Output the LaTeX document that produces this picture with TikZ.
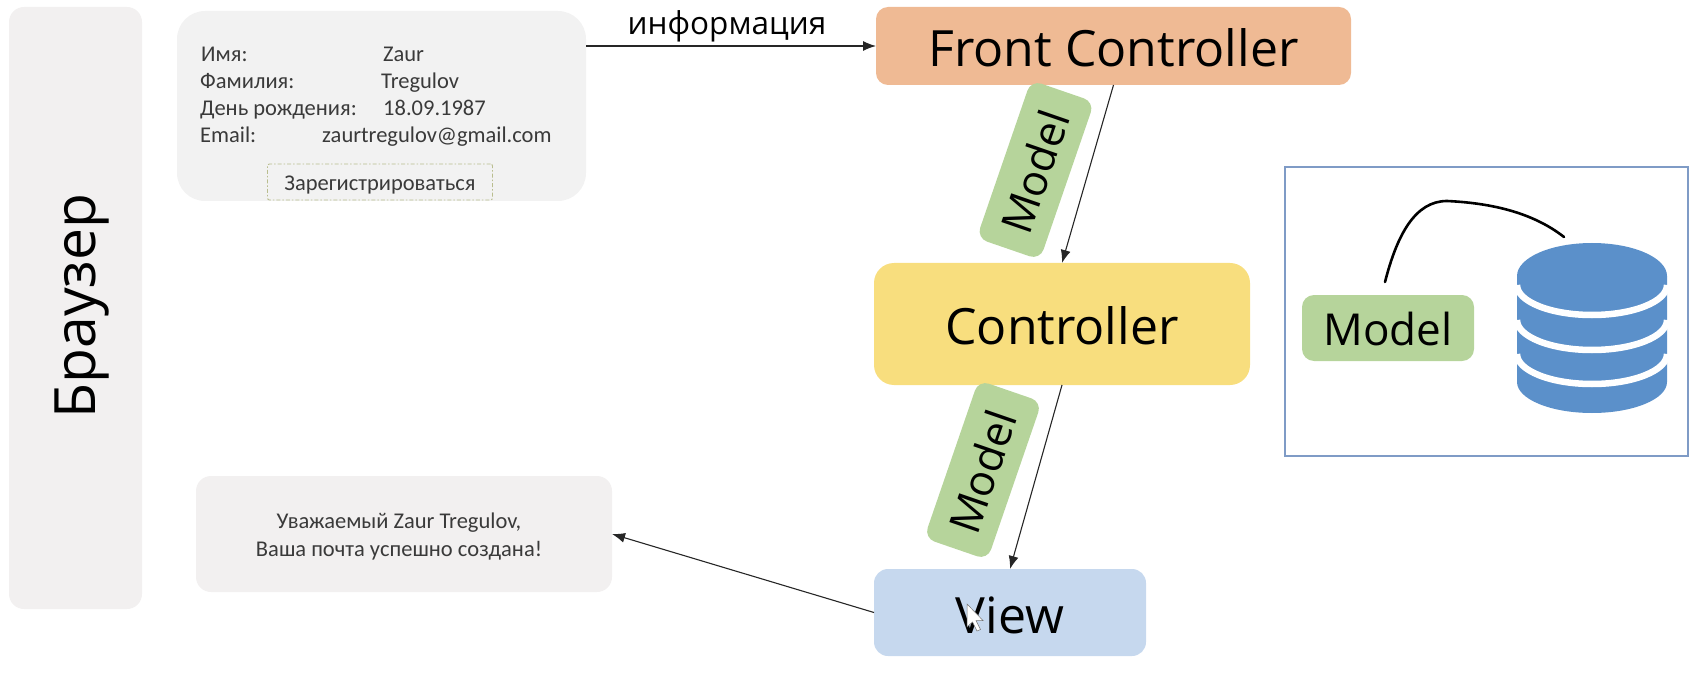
\documentclass[tikz,border=0pt]{standalone}
\usepackage{fontspec}
\setmainfont{Open Sans}
\newfontfamily\formfont{Carlito}
\usetikzlibrary{arrows.meta}
\definecolor{greybox}{HTML}{F2F0F0}
\definecolor{formbox}{HTML}{F2F2F2}
\definecolor{fcfill}{HTML}{EFBA94}
\definecolor{ctrlfill}{HTML}{F8DE7E}
\definecolor{viewfill}{HTML}{C6D8EE}
\definecolor{modelfill}{HTML}{B6D49B}
\definecolor{dbfill}{HTML}{5B90CA}
\definecolor{framecol}{HTML}{7F9BC6}
\definecolor{formtext}{HTML}{3A3A3A}
\definecolor{btnline}{HTML}{B9BD8E}
\newcommand{\lowered}[2]{\raisebox{-#1pt}[\height][\depth]{#2}}
\tikzset{
  x=1pt,y=-1pt,
  box/.style={inner sep=0pt,outer sep=0pt,rounded corners=#1},
  conn/.style={draw=black!85,line width=1.1pt,-{Latex[length=13pt,width=10pt]}},
  big/.style={font=\fontsize{50}{50}\selectfont},
  modeltag/.style={box=11pt,fill=modelfill,minimum width=167pt,minimum height=67pt,align=center,font=\fontsize{43}{43}\selectfont},
  formlabel/.style={anchor=base west,inner sep=0pt,text=formtext,font=\formfont\fontsize{22.5}{22.5}\selectfont},
}
\begin{document}
\begin{tikzpicture}
\useasboundingbox (0,0) rectangle (1702,676);
% containers
\node[box=15pt,fill=greybox,minimum width=133pt,minimum height=602pt] (browser) at (75.5,308) {};
\node[rotate=90,font=\fontsize{57}{57}\selectfont] (browserlabel) at (82,306) {Браузер};
\node[box=28pt,fill=formbox,minimum width=409pt,minimum height=190pt] (form) at (381.5,106) {};
\node[box=15pt,fill=greybox,minimum width=416pt,minimum height=116pt] (msg) at (404,534) {};
\node[align=center,inner sep=0pt,text=formtext,font=\formfont\fontsize{22.5}{28}\selectfont] (msgtext) at (399,537) {Уважаемый Zaur Tregulov,\\Ваша почта успешно создана!};
\node[formlabel] (l1) at (201,62) {Имя:};
\node[formlabel] (v1) at (383,62) {Zaur};
\node[formlabel] (l2) at (200,88.5) {Фамилия:};
\node[formlabel] (v2) at (381,88.5) {Tregulov};
\node[formlabel] (l3) at (200,115.5) {День рождения:};
\node[formlabel] (v3) at (383,115.5) {18.09.1987};
\node[formlabel] (l4) at (200,142.5) {Email:};
\node[formlabel] (v4) at (322,142.5) {zaurtregulov@gmail.com};
\node[draw=btnline,dash pattern=on 4pt off 2pt on 1.5pt off 2pt,line width=.9pt,fill=formbox,minimum width=225pt,minimum height=36pt,inner sep=0pt,text=formtext,font=\formfont\fontsize{22.5}{22.5}\selectfont,rounded corners=2pt] (btn) at (380,182) {\lowered{3}{Зарегистрироваться}};
% main column
\node[box=12pt,fill=fcfill,minimum width=475pt,minimum height=78pt,big] (fc) at (1113.5,46) {\lowered{1.5}{Front Controller}};
\node[box=20pt,fill=ctrlfill,minimum width=376pt,minimum height=122pt,big] (ctrl) at (1062,324) {\lowered{1.5}{Controller}};
\node[box=14pt,fill=viewfill,minimum width=272pt,minimum height=87pt,big] (view) at (1010,612.5) {\lowered{3}{View}};
\node[modeltag,rotate=71] (m1) at (1035.5,170) {Model\kern4pt};
\node[modeltag,rotate=71] (m2) at (983,470) {Model\kern4pt};
% connectors
\draw[conn] (form.east |- fc.west) -- node[above=3pt,xshift=-4pt,inner sep=0pt,font=\fontsize{31.5}{31.5}\selectfont] (info) {информация} (fc.west);
\draw[conn] (fc.south) -- (ctrl.north);
\draw[conn] (ctrl.south) -- (view.north);
\draw[conn] (view.west) -- (msg.east);
% database frame
\node[draw=framecol,line width=1.3pt,minimum width=403pt,minimum height=289pt,inner sep=0pt] (frame) at (1486.5,311.5) {};
\node[box=12pt,fill=modelfill,minimum width=172pt,minimum height=66pt,font=\fontsize{44}{44}\selectfont] (model) at (1388,328) {\lowered{1}{Model}};
% database
\fill[dbfill] (1517,276) -- (1517,382) arc[x radius=75,y radius=31,start angle=180,end angle=0] -- (1667,276) -- cycle;
\fill[dbfill] (1592,276) ellipse[x radius=75,y radius=33];
\foreach \yy in {285,320,354}{
  \draw[white,line width=6.5pt] (1517,\yy) arc[x radius=75,y radius=30,start angle=180,end angle=0];
}
\coordinate (dbtop) at (1564,237);
\coordinate (modeltop) at (1385,282);
\draw[line width=2.6pt,line cap=round] (modeltop) .. controls (1397,235) and (1415,201) .. (1447,201) .. controls (1490,203) and (1532,212) .. (dbtop);
% cursor
\fill[white,draw=black!55,line width=.5pt] (967,604) -- (967,627) -- (972.5,622) -- (977,631) -- (980.5,629.5) -- (976,620.5) -- (983,620.5) -- cycle;
\end{tikzpicture}
\end{document}
